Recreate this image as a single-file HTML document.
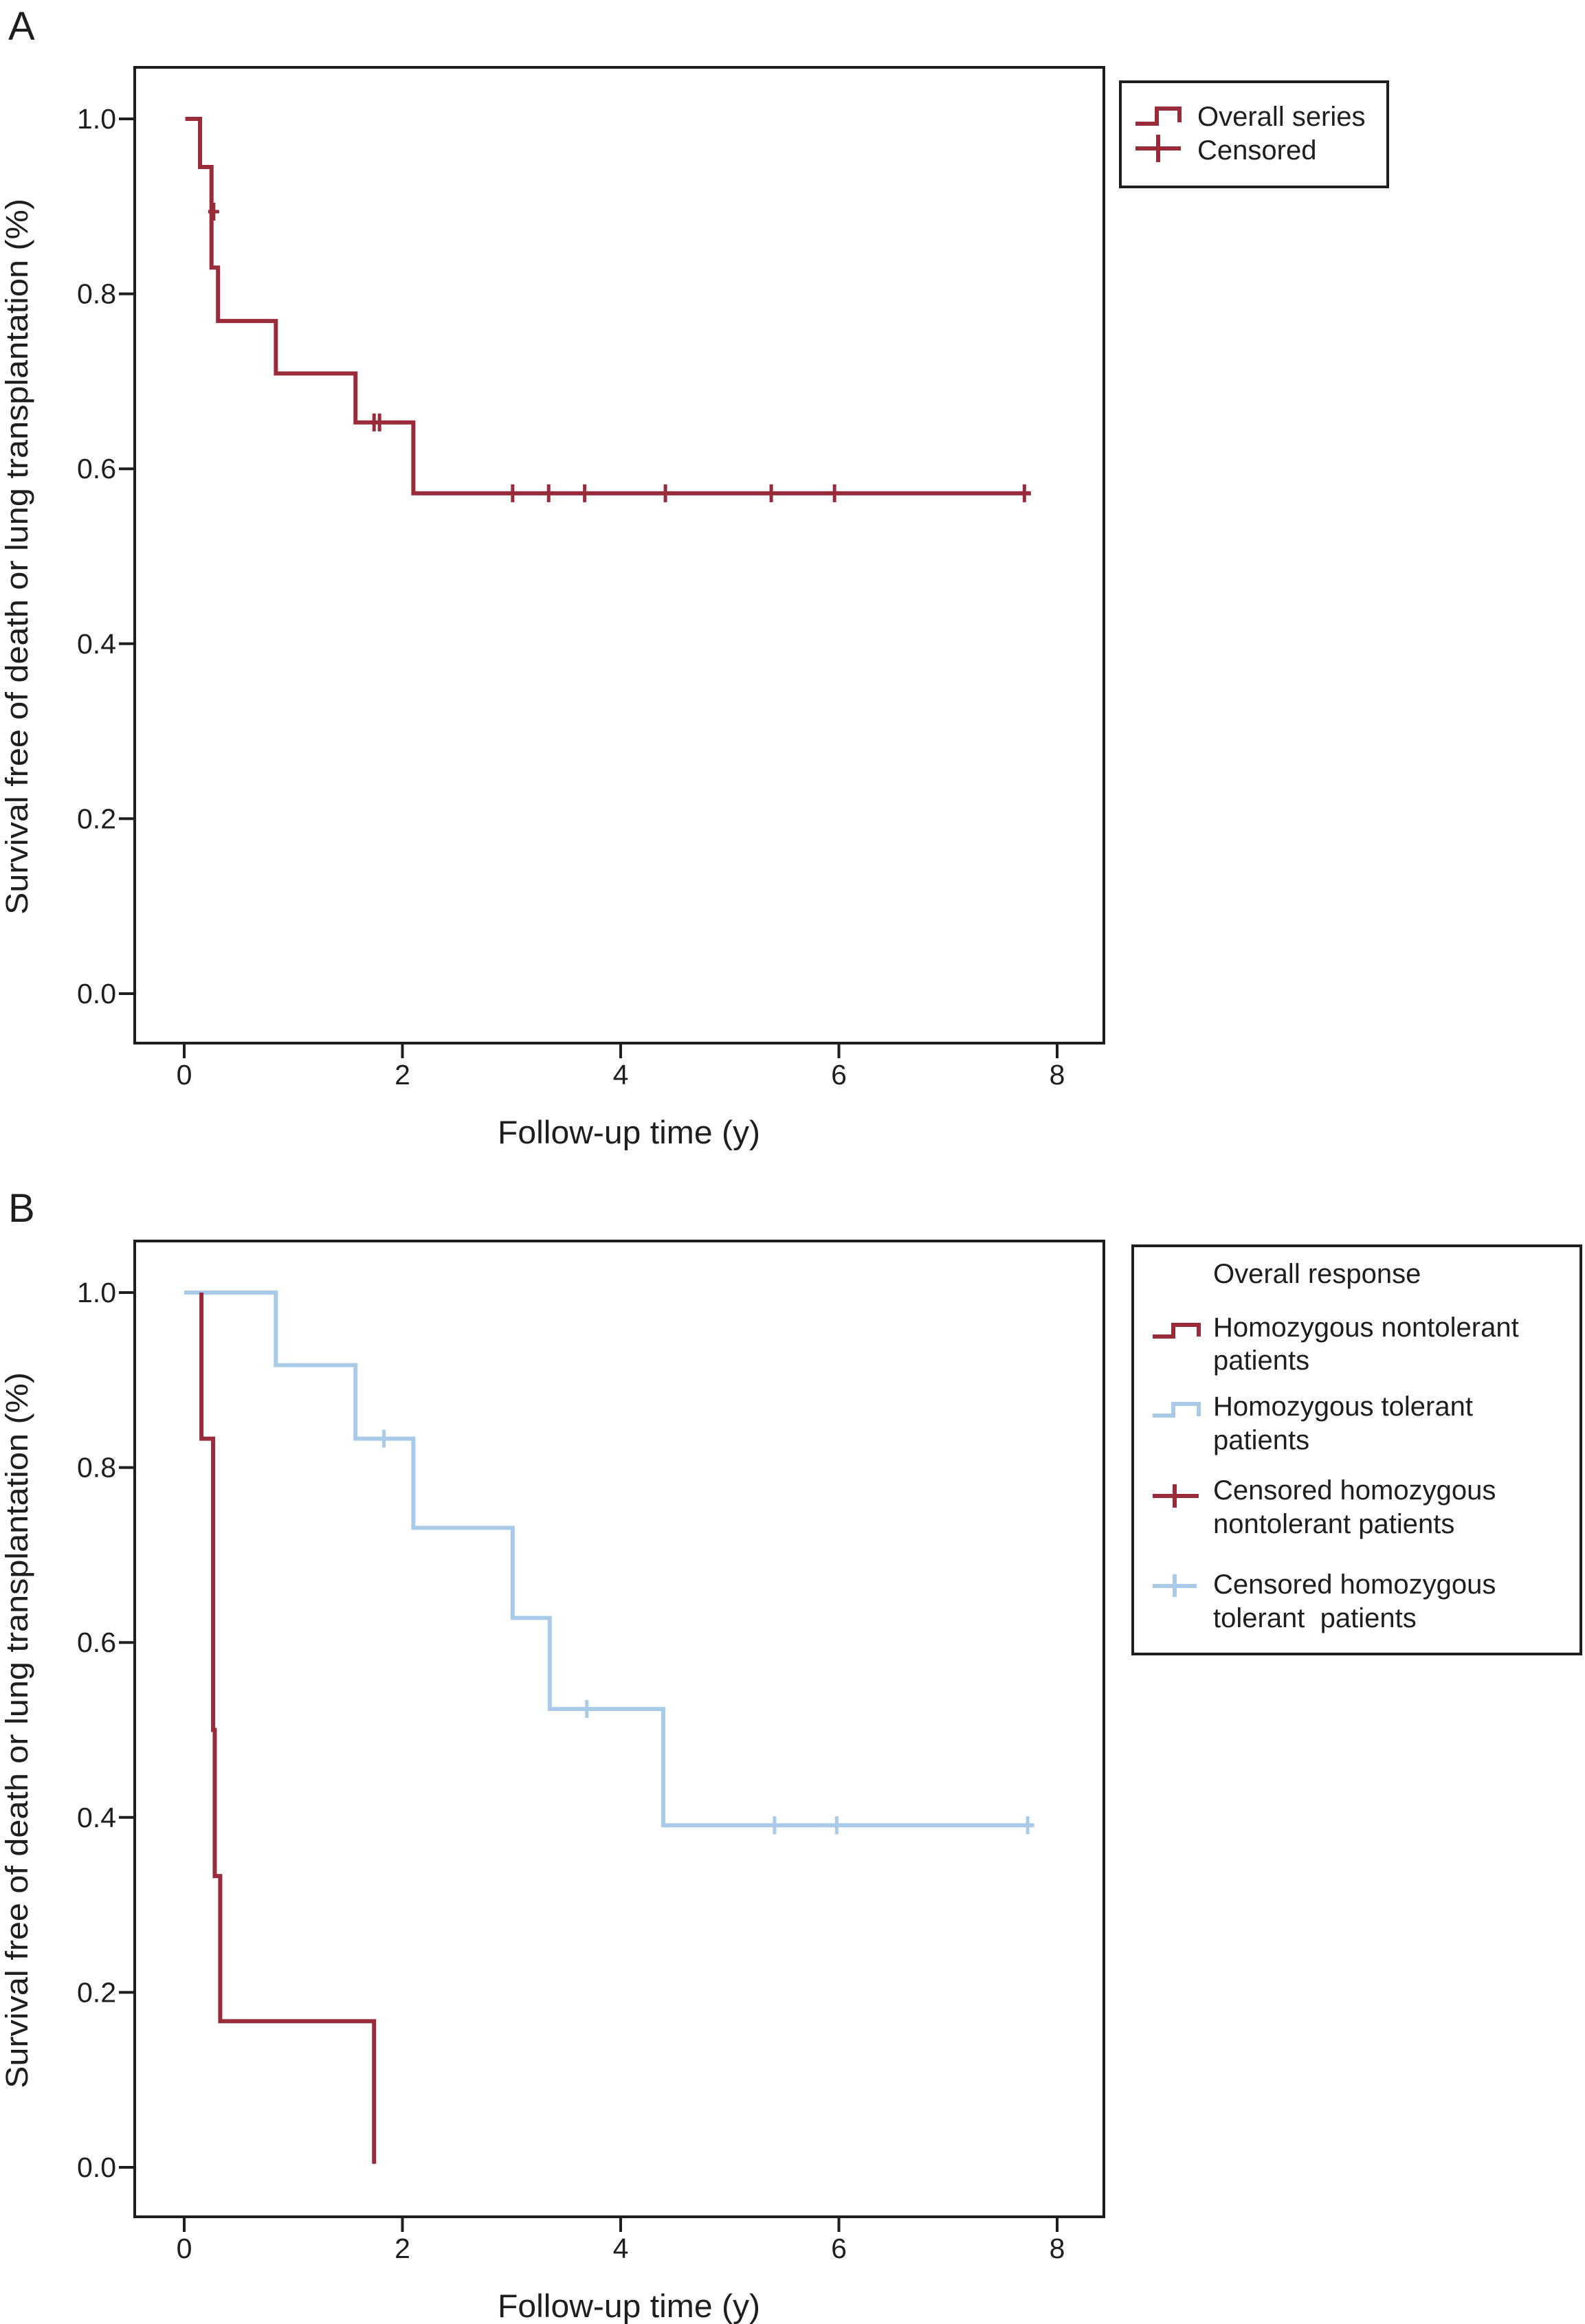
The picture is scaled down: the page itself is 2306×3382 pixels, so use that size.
<!DOCTYPE html>
<html><head><meta charset="utf-8"><style>
html,body{margin:0;padding:0;background:#fff;}
svg{display:block;font-family:"Liberation Sans",Arial,sans-serif;}
</style></head><body>
<svg id="fig" width="2306" height="3382" viewBox="0 0 2306 3382" xmlns="http://www.w3.org/2000/svg"></svg>
<script>
// ---- Panel A data ----
const aStartT = 0.01;
const aEventTimes = [0.145, 0.25, 0.25, 0.31, 0.84, 1.57, 2.10];
const aEventSurv = [0.945, 0.894, 0.83, 0.769, 0.709, 0.653, 0.572];
const aEndT = 7.76;
const aCensorTimes = [0.27, 1.74, 1.79, 3.01, 3.34, 3.67, 4.41, 5.38, 5.96, 7.70];
const aCensorSurv = [0.894, 0.653, 0.653, 0.572, 0.572, 0.572, 0.572, 0.572, 0.572, 0.572];
// ---- Panel B data ----
const bRedStartT = 0.158;
const bRedEventTimes = [0.158, 0.25, 0.265, 0.28, 0.33, 1.74];
const bRedEventSurv = [0.833, 0.833, 0.5, 0.333, 0.167, 0.004];
const bRedEndT = 1.74;
const bBlueStartT = 0.0;
const bBlueEventTimes = [0.84, 1.57, 2.10, 3.01, 3.35, 4.39];
const bBlueEventSurv = [0.917, 0.833, 0.731, 0.628, 0.524, 0.391];
const bBlueEndT = 7.79;
const bBlueCensorTimes = [1.83, 3.69, 5.41, 5.98, 7.73];
const bBlueCensorSurv = [0.833, 0.524, 0.391, 0.391, 0.391];
const xTicks = [0, 2, 4, 6, 8];
const yTicks = [0.0, 0.2, 0.4, 0.6, 0.8, 1.0];
const yTickLabels = ["0.0", "0.2", "0.4", "0.6", "0.8", "1.0"];

const RED = "#9a2b3b", BLUE = "#a9cbe8";
const NS = "http://www.w3.org/2000/svg";
const svg = document.getElementById('fig');
function mk(tag, attrs, parent, text) {
  const e = document.createElementNS(NS, tag);
  for (const k in attrs) e.setAttribute(k, attrs[k]);
  if (text !== undefined) e.textContent = text;
  (parent || svg).appendChild(e);
  return e;
}
function panel(name, top) {
  const box = {l:196, r:1606, t:top, b:top+1420};
  const y1 = top+75, y0 = top+1348;
  const X = t => 268 + t*158.75;
  const Y = s => y0 - s*(y0-y1);
  const g = mk('g', {});
  
  
  const fr = mk('rect', {x:box.l, y:box.t, width:box.r-box.l, height:box.b-box.t, fill:'none', stroke:'#1e1e1e', 'stroke-width':4}, g);
  
  
  yTicks.forEach((v, i) => {
    const tk = mk('line', {x1:173, x2:box.l, y1:Y(v), y2:Y(v), stroke:'#1e1e1e', 'stroke-width':4}, g);
    
    
    const lb = mk('text', {x:169, y:Y(v)+14, 'text-anchor':'end', 'font-size':41, fill:'#1e1e1e'}, g, yTickLabels[i]);
    
    
  });
  xTicks.forEach(v => {
    const tk = mk('line', {x1:X(v), x2:X(v), y1:box.b, y2:box.b+22, stroke:'#1e1e1e', 'stroke-width':4}, g);
    
    
    const lb = mk('text', {x:X(v), y:box.b+60, 'text-anchor':'middle', 'font-size':41, fill:'#1e1e1e'}, g, String(v));
    
    
  });
  const yt = mk('text', {x:0, y:0, transform:`translate(40 ${(box.t+box.b)/2+2}) rotate(-90)`, 'text-anchor':'middle', 'font-size':45, fill:'#1e1e1e', textLength:1042, lengthAdjust:'spacingAndGlyphs'}, g, 'Survival free of death or lung transplantation (%)');
  
  
  const xt = mk('text', {x:915, y:box.b+146, 'text-anchor':'middle', 'font-size':47, fill:'#1e1e1e', textLength:382, lengthAdjust:'spacingAndGlyphs'}, g, 'Follow-up time (y)');
  
  
  return {g, X, Y};
}
function stepPath(X, Y, startT, times, surv, endT) {
  let s = 1, d = `M${X(startT)},${Y(1)}`;
  times.forEach((t, i) => { d += ` L${X(t)},${Y(s)} L${X(t)},${Y(surv[i])}`; s = surv[i]; });
  d += ` L${X(endT)},${Y(s)}`;
  return d;
}
function censors(g, X, Y, times, surv, color, nm) {
  times.forEach((t, i) => {
    const c = mk('path', {d:`M${X(t)},${Y(surv[i])-13} V${Y(surv[i])+13} M${X(t)-8},${Y(surv[i])} H${X(t)+8}`, stroke:color, 'stroke-width':5, fill:'none'}, g);
    
    
  });
}
// Panel A
const A = panel('panel-a', 98);
const la = mk('text', {x:12, y:58, 'font-size':58, fill:'#1e1e1e'}, A.g, 'A');


const ca = mk('path', {d:stepPath(A.X, A.Y, aStartT, aEventTimes, aEventSurv, aEndT), stroke:RED, 'stroke-width':6, fill:'none'}, A.g);


censors(A.g, A.X, A.Y, aCensorTimes, aCensorSurv, RED, 'censored-mark');
// Legend A
const lgA = mk('g', {}, A.g);


mk('rect', {x:1630, y:119, width:389, height:153, fill:'none', stroke:'#1e1e1e', 'stroke-width':4}, lgA);
mk('path', {d:'M1652,180 H1683 V158 H1716 V178', stroke:RED, 'stroke-width':6, fill:'none'}, lgA);
mk('text', {x:1742, y:183, 'font-size':40, fill:'#1e1e1e'}, lgA, 'Overall series');
mk('path', {d:'M1652,216 H1718 M1685,196 V236', stroke:RED, 'stroke-width':6, fill:'none'}, lgA);
mk('text', {x:1742, y:232, 'font-size':40, fill:'#1e1e1e'}, lgA, 'Censored');

// Panel B
const B = panel('panel-b', 1806);
const lb = mk('text', {x:12, y:1778, 'font-size':58, fill:'#1e1e1e'}, B.g, 'B');


const cb = mk('path', {d:stepPath(B.X, B.Y, bBlueStartT, bBlueEventTimes, bBlueEventSurv, bBlueEndT), stroke:BLUE, 'stroke-width':6, fill:'none'}, B.g);


const cr = mk('path', {d:stepPath(B.X, B.Y, bRedStartT, bRedEventTimes, bRedEventSurv, bRedEndT), stroke:RED, 'stroke-width':6, fill:'none'}, B.g);


censors(B.g, B.X, B.Y, bBlueCensorTimes, bBlueCensorSurv, BLUE, 'censored-tolerant-mark');
// Legend B
const lgB = mk('g', {}, B.g);


mk('rect', {x:1648, y:1813, width:652, height:594, fill:'none', stroke:'#1e1e1e', 'stroke-width':4}, lgB);
const T = (x, y, s) => mk('text', {x, y, 'font-size':40, fill:'#1e1e1e'}, lgB, s);
T(1765, 1867, 'Overall response');
mk('path', {d:'M1677,1945 H1707 V1928 H1744 V1945', stroke:RED, 'stroke-width':6, fill:'none'}, lgB);
T(1765, 1945, 'Homozygous nontolerant');
T(1765, 1993, 'patients');
mk('path', {d:'M1677,2060 H1707 V2043 H1744 V2061', stroke:BLUE, 'stroke-width':6, fill:'none'}, lgB);
T(1765, 2060, 'Homozygous tolerant');
T(1765, 2109, 'patients');
mk('path', {d:'M1677,2177 H1744 M1709,2160 V2194', stroke:RED, 'stroke-width':6, fill:'none'}, lgB);
T(1765, 2182, 'Censored homozygous');
T(1765, 2231, 'nontolerant patients');
mk('path', {d:'M1677,2308 H1741 M1709,2291 V2324', stroke:BLUE, 'stroke-width':6, fill:'none'}, lgB);
T(1765, 2319, 'Censored homozygous');
mk('text', {x:1765, y:2368, 'font-size':40, fill:'#1e1e1e', 'xml:space':'preserve'}, lgB, 'tolerant\u00a0 patients');
</script>
</body></html>
